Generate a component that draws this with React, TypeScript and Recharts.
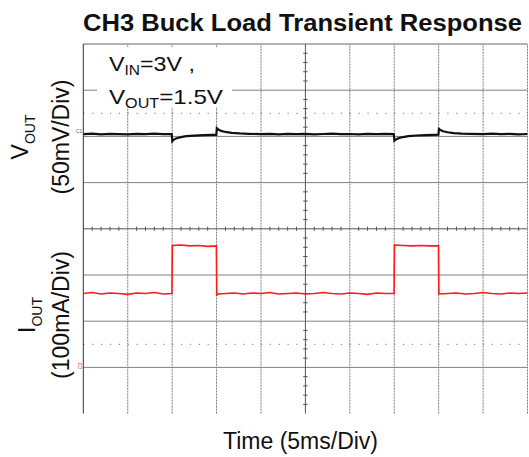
import React from "react"
import { ComposedChart, Line, XAxis, YAxis, ReferenceLine } from "recharts"

// scope screen: 10 time divisions of 5 ms, 8 vertical divisions
const timeGridMs = [0, 5, 10, 15, 20, 25, 30, 35, 40, 45, 50]
// horizontal grid lines, on the VOUT scale (50 mV/div, 0 = C1 marker)
const voltGridMv = [100, 50, 0, -50, -100, -150, -200, -250, -300]
const centerTimeMs = 25
const centerVoltMv = -100
const dottedVoutMv = [25]
const dottedIoutMa = [50]

// VOUT ripple around its marker, mV
const vout: [number, number][] = [
  [0, 2.4], [1, 2.9], [2, 2.3], [3, 2.8], [4, 2.5], [5, 2.2], [6, 2.7], [7, 2.4], [8, 2.9], [9, 2.5], [9.95, 2.6],
  [10.02, -5.2], [10.2, -3.4], [10.5, -2.0], [11, -0.8], [11.6, 0.2], [12.5, 0.9], [13.5, 1.3], [14.5, 1.6], [14.97, 1.7],
  [15.03, 9.0], [15.2, 7.4], [15.5, 6.0], [16, 4.8], [16.7, 3.9], [17.6, 3.2], [18.6, 2.8], [20, 2.5], [21, 2.8],
  [22, 2.3], [23, 2.7], [24, 2.4], [25, 2.8], [26, 2.3], [27, 2.6], [28, 2.9], [29, 2.4], [30, 2.6], [31, 2.2],
  [32, 2.7], [33, 2.5], [34, 2.8], [34.95, 2.5],
  [35.02, -4.6], [35.2, -3.2], [35.5, -1.9], [36, -0.7], [36.6, 0.3], [37.5, 1.0], [38.5, 1.4], [39.5, 1.7], [39.97, 1.8],
  [40.03, 8.2], [40.2, 6.9], [40.5, 5.6], [41, 4.5], [41.7, 3.6], [42.6, 3.0], [43.6, 2.7], [45, 2.5], [46, 2.9],
  [47, 2.4], [48, 2.7], [49, 2.3], [50, 2.6],
]

// IOUT load steps, mA
const iout: [number, number][] = [
  [0, 160], [1, 162], [2, 159], [3, 161], [4, 160], [5, 158], [6, 161], [7, 160], [8, 162], [9, 159], [9.98, 160],
  [10.02, 264], [11, 265], [12, 263], [13, 264], [14, 262], [14.98, 263],
  [15.02, 157], [15.2, 159], [16, 160], [17, 161], [18, 159], [19, 161], [20, 160], [21, 162], [22, 159], [23, 160],
  [24, 161], [25, 159], [26, 160], [27, 162], [28, 160], [29, 159], [30, 161], [31, 160], [32, 158], [33, 161],
  [34, 160], [34.98, 160],
  [35.02, 265], [36, 264], [37, 263], [38, 264], [39, 263], [39.98, 263],
  [40.02, 159], [41, 160], [42, 161], [43, 159], [44, 160], [45, 162], [46, 160], [47, 159], [48, 161], [49, 160], [50, 161],
]

const title = "CH3 Buck Load Transient Response"
const xLabel = "Time (5ms/Div)"

const voutData = vout.map(([t, v]) => ({ t, v }))
const ioutData = iout.map(([t, i]) => ({ t, i }))

// minor ticks on the centre axes, 5 per division
const minorTimes: number[] = []
for (let k = 0; k < timeGridMs.length - 1; k++)
  for (let j = 1; j < 5; j++) minorTimes.push(timeGridMs[k] + j)
const minorVolts: number[] = []
for (let k = 0; k < voltGridMv.length - 1; k++)
  for (let j = 1; j < 5; j++) minorVolts.push(voltGridMv[k] - j * 10)

const font = "'Liberation Sans', Arial, sans-serif"

export default function App() {
  return (
    <div style={{ position: "absolute", left: 0, top: 0, width: 529, height: 457, background: "#fff" }}>
      <ComposedChart width={529} height={457} margin={{ top: 44, right: 1.5, bottom: 43.4, left: 83.3 }}>
        <XAxis xAxisId="t" type="number" dataKey="t" domain={[0, 50]} hide allowDataOverflow />
        <YAxis yAxisId="v" type="number" domain={[-300, 100]} hide allowDataOverflow />
        <YAxis yAxisId="i" type="number" domain={[-100, 700]} hide allowDataOverflow />

        {timeGridMs.filter((t) => t !== 0 && t !== centerTimeMs).map((t) => (
          <ReferenceLine key={"vx" + t} xAxisId="t" yAxisId="v" x={t} stroke="#7a7a7a" strokeDasharray="2 1" />
        ))}
        {voltGridMv.filter((v) => v !== 100 && v !== -300 && v !== centerVoltMv).map((v) => (
          <ReferenceLine key={"hy" + v} xAxisId="t" yAxisId="v" y={v} stroke="#808080" />
        ))}
        {dottedVoutMv.map((v) => (
          <ReferenceLine key={"dv" + v} xAxisId="t" yAxisId="v" y={v} stroke="#777" strokeDasharray="1.2 7.68" />
        ))}
        {dottedIoutMa.map((v) => (
          <ReferenceLine key={"di" + v} xAxisId="t" yAxisId="i" y={v} stroke="#777" strokeDasharray="1.2 7.68" />
        ))}

        {/* centre axes with minor ticks */}
        <ReferenceLine xAxisId="t" yAxisId="v" x={centerTimeMs} stroke="#555" />
        <ReferenceLine xAxisId="t" yAxisId="v" y={centerVoltMv} stroke="#555" />
        {minorTimes.map((t) => (
          <ReferenceLine key={"mt" + t} xAxisId="t" yAxisId="v" stroke="#555"
            segment={[{ x: t, y: centerVoltMv - 2.2 }, { x: t, y: centerVoltMv + 2.2 }]} />
        ))}
        {minorVolts.map((v) => (
          <ReferenceLine key={"mv" + v} xAxisId="t" yAxisId="v" stroke="#555"
            segment={[{ x: centerTimeMs - 0.25, y: v }, { x: centerTimeMs + 0.25, y: v }]} />
        ))}

        {/* screen border */}
        <ReferenceLine xAxisId="t" yAxisId="v" y={100} stroke="#666" />
        <ReferenceLine xAxisId="t" yAxisId="v" x={0} stroke="#333" />

        <Line xAxisId="t" yAxisId="v" data={voutData} dataKey="v" type="linear" stroke="#111"
          strokeWidth={2.2} dot={false} isAnimationActive={false} />
        <Line xAxisId="t" yAxisId="i" data={ioutData} dataKey="i" type="linear" stroke="#ff1a1a"
          strokeWidth={1.6} dot={false} isAnimationActive={false} />
      </ComposedChart>

      <svg width={529} height={457} style={{ position: "absolute", left: 0, top: 0, pointerEvents: "none" }}
        fontFamily={font}>
        <text x={83} y={31} fontSize={23} fontWeight="bold" fill="#111" textLength={439}
          lengthAdjust="spacingAndGlyphs">{title}</text>

        <rect x={97} y={47} width={135} height={60} fill="#fff" />
        <text x={109} y={71} fontSize={21} fill="#111" textLength={86} lengthAdjust="spacingAndGlyphs">
          V<tspan fontSize={14} dy={4}>IN</tspan><tspan dy={-4}>=3V ,</tspan>
        </text>
        <text x={109} y={104} fontSize={21} fill="#111" textLength={114} lengthAdjust="spacingAndGlyphs">
          V<tspan fontSize={14} dy={4}>OUT</tspan><tspan dy={-4}>=1.5V</tspan>
        </text>

        <text transform="rotate(-90 28 137)" x={28} y={137} fontSize={23} fill="#111" textAnchor="middle">
          V<tspan fontSize={14} dy={7}>OUT</tspan>
        </text>
        <text transform="rotate(-90 69 137)" x={69} y={137} fontSize={23} fill="#111" textAnchor="middle">
          (50mV/Div)
        </text>
        <text transform="rotate(-90 35 315)" x={35} y={315} fontSize={23} fill="#111" textAnchor="middle">
          I<tspan fontSize={14} dy={7}>OUT</tspan>
        </text>
        <text transform="rotate(-90 69 315)" x={69} y={315} fontSize={23} fill="#111" textAnchor="middle">
          (100mA/Div)
        </text>

        <text x={300.5} y={449} fontSize={23} fill="#111" textAnchor="middle">{xLabel}</text>

        <text x={76} y={133} fontSize={5} fill="#5050a0">C1</text>
        <text transform="rotate(-90 82 366)" x={82} y={366} fontSize={5} fill="#f03030" textAnchor="middle">C3</text>
      </svg>
    </div>
  )
}
